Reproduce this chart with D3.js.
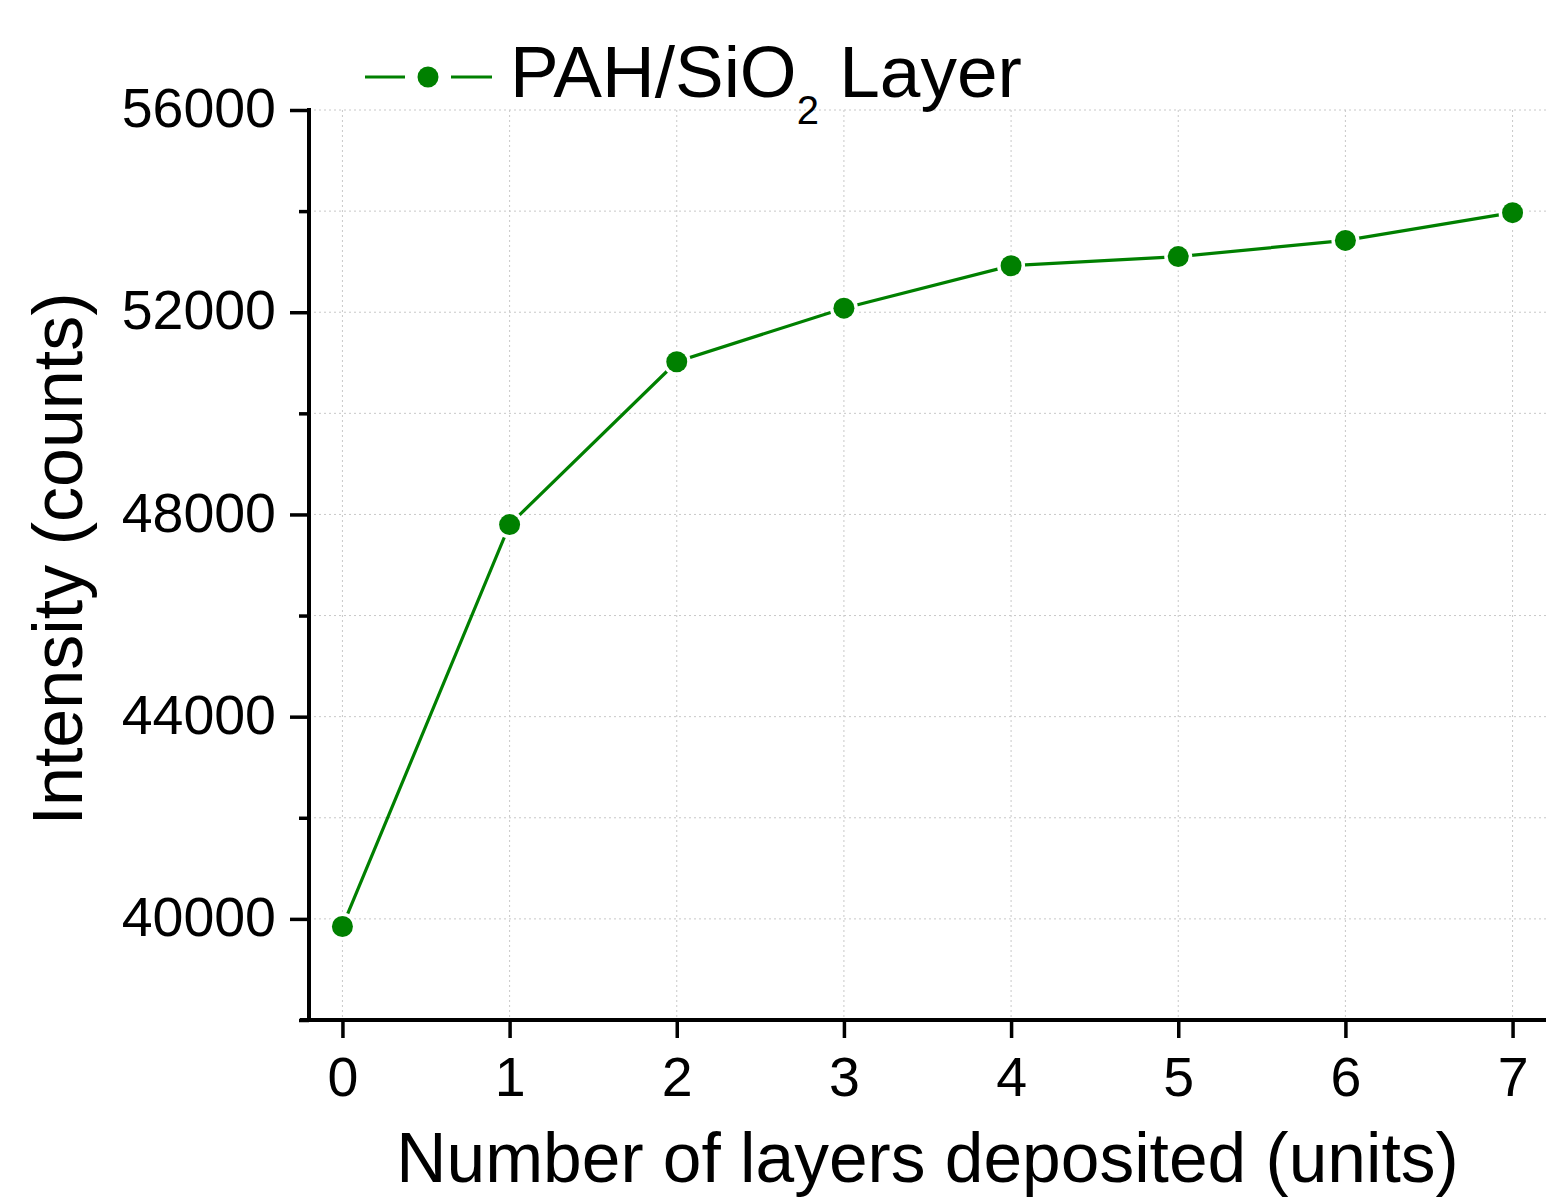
<!DOCTYPE html>
<html>
<head>
<meta charset="utf-8">
<script src="https://cdn.jsdelivr.net/npm/d3@7"></script>
<style>
  body { margin: 0; background: #fff; }
  svg { display: block; font-family: "Liberation Sans", Arial, sans-serif; }
</style>
</head>
<body>
<div id="chartWrap"></div>
<script>
'use strict'
// data
const layers = [0, 1, 2, 3, 4, 5, 6, 7];
const intensity = [39850, 47800, 51020, 52080, 52920, 53100, 53420, 53970];
const yMajorTicks = [40000, 44000, 48000, 52000, 56000];
const yMinorTicks = [38000, 42000, 46000, 50000, 54000];
const yGridTicks = [40000, 42000, 44000, 46000, 48000, 50000, 52000, 54000, 56000];
const seriesName = ['PAH/SiO', '2', ' Layer'];

const svgWidth = 1546, svgHeight = 1202;
const margin = { top: 110, right: 0, bottom: 182, left: 309 };
const green = '#008000';

const svg = d3.select('#chartWrap').append('svg')
    .attr('width', svgWidth)
    .attr('height', svgHeight);

const x = d3.scaleLinear().domain([-0.2, 7.2]).range([margin.left, svgWidth - margin.right]);
const y = d3.scaleLinear().domain([38000, 56000]).range([svgHeight - margin.bottom, margin.top]);

// grid
const grid = svg.append('g').attr('class', 'grid')
    .attr('stroke', '#c8c8c8').attr('stroke-width', 1).attr('stroke-dasharray', '2,3');
grid.selectAll('line.h').data(yGridTicks).join('line')
    .attr('class', 'h')
    .attr('x1', x(-0.2)).attr('x2', x(7.2))
    .attr('y1', d => y(d)).attr('y2', d => y(d));
grid.selectAll('line.v').data(layers).join('line')
    .attr('class', 'v')
    .attr('x1', d => x(d)).attr('x2', d => x(d))
    .attr('y1', y(56000)).attr('y2', y(38000));

// axes
const styleAxis = g => {
    g.selectAll('.domain').remove();
    g.selectAll('.tick line').attr('stroke', '#000').attr('stroke-width', 3.5);
    g.selectAll('.tick text').attr('fill', '#000')
        .attr('font-size', 55.5).attr('font-family', '"Liberation Sans", Arial, sans-serif');
};

svg.append('g')
    .attr('transform', `translate(${margin.left},0)`)
    .call(d3.axisLeft(y).tickValues(yMajorTicks).tickSize(19).tickPadding(14).tickFormat(d3.format('d')))
    .call(styleAxis)
    .call(g => g.selectAll('.tick text').attr('dy', '0.3em'));

svg.append('g')
    .attr('transform', `translate(${margin.left},0)`)
    .call(d3.axisLeft(y).tickValues(yMinorTicks).tickSize(10).tickFormat(''))
    .call(styleAxis);

svg.append('g')
    .attr('transform', `translate(0,${y(38000)})`)
    .call(d3.axisBottom(x).tickValues(layers).tickSize(18).tickPadding(19).tickFormat(d3.format('d')))
    .call(styleAxis)
    .call(g => g.selectAll('.tick text').attr('dy', '0.71em'));

// axis lines
svg.append('line')
    .attr('x1', margin.left).attr('x2', margin.left)
    .attr('y1', y(56000) - 2).attr('y2', y(38000))
    .attr('stroke', '#000').attr('stroke-width', 4);
svg.append('line')
    .attr('x1', margin.left - 9).attr('x2', svgWidth)
    .attr('y1', y(38000)).attr('y2', y(38000))
    .attr('stroke', '#000').attr('stroke-width', 4);

// axis titles
svg.append('text')
    .attr('x', (403 + 1452) / 2).attr('y', 1182)
    .attr('text-anchor', 'middle')
    .attr('font-size', 69.5)
    .text('Number of layers deposited (units)');

svg.append('text')
    .attr('transform', `translate(82, ${(298 + 820) / 2}) rotate(-90)`)
    .attr('text-anchor', 'middle')
    .attr('font-size', 70)
    .text('Intensity (counts)');

// series
const line = d3.line().x((d, i) => x(layers[i])).y(d => y(d));
svg.append('path')
    .datum(intensity)
    .attr('fill', 'none')
    .attr('stroke', green)
    .attr('stroke-width', 3.2)
    .attr('d', line);

svg.append('g').selectAll('circle')
    .data(intensity)
    .join('circle')
    .attr('cx', (d, i) => x(layers[i]))
    .attr('cy', d => y(d))
    .attr('r', 10.5)
    .attr('fill', green)
    .attr('stroke', '#fff')
    .attr('stroke-width', 7)
    .style('paint-order', 'stroke');

// legend
const legend = svg.append('g').attr('class', 'legend');
legend.append('line')
    .attr('x1', 365).attr('x2', 405).attr('y1', 77).attr('y2', 77)
    .attr('stroke', green).attr('stroke-width', 3.2);
legend.append('line')
    .attr('x1', 451).attr('x2', 492).attr('y1', 77).attr('y2', 77)
    .attr('stroke', green).attr('stroke-width', 3.2);
legend.append('circle')
    .attr('cx', 428).attr('cy', 77).attr('r', 10.5)
    .attr('fill', green);

const legendText = legend.append('text')
    .attr('x', 510).attr('y', 97)
    .attr('font-size', 73);
legendText.append('tspan').text(seriesName[0]);
legendText.append('tspan').attr('font-size', 40).attr('dy', 27).text(seriesName[1]);
legendText.append('tspan').attr('dy', -27).text(seriesName[2]);
</script>
</body>
</html>
